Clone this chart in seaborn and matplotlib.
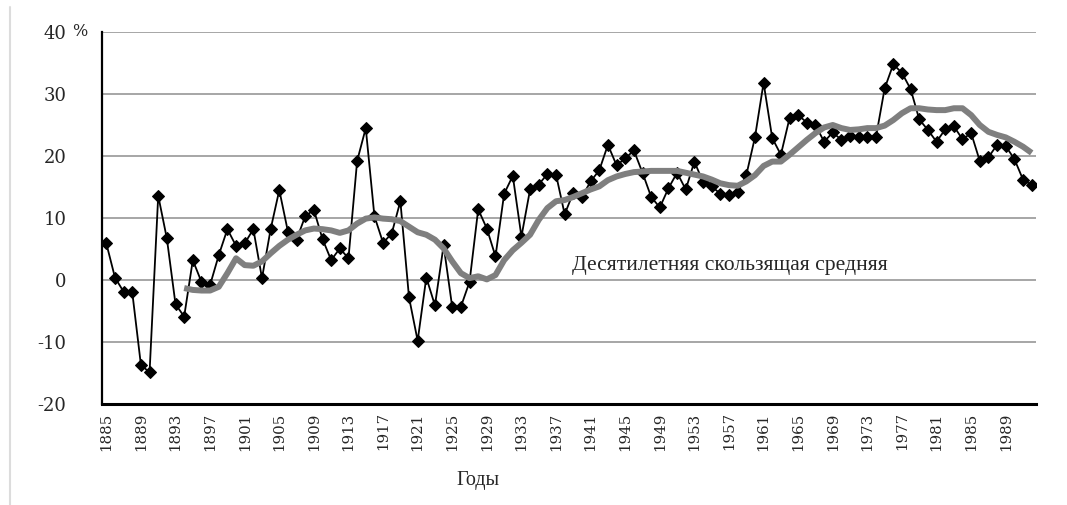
import matplotlib
matplotlib.use("Agg")
import matplotlib.pyplot as plt
import seaborn as sns
import pandas as pd
import numpy as np
from matplotlib.lines import Line2D

# Годы 1885-1992
years = list(range(1885, 1993))

# Годовые значения, %
values = [
    5.9, 0.4, -1.9, -2.0, -13.7, -14.9, 13.6, 6.7, -3.9, -5.9,      # 1885-1894
    3.2, -0.3, -0.8, 4.0, 8.2, 5.5, 5.9, 8.2, 0.3, 8.2,             # 1895-1904
    14.5, 7.8, 6.5, 10.3, 11.3, 6.6, 3.2, 5.1, 3.5, 19.2,           # 1905-1914
    24.5, 10.3, 6.0, 7.5, 12.7, -2.8, -9.8, 0.4, -4.1, 5.6,         # 1915-1924
    -4.4, -4.3, -0.3, 11.4, 8.3, 3.8, 13.9, 16.8, 7.0, 14.6,        # 1925-1934
    15.4, 17.1, 17.0, 10.6, 14.1, 13.4, 15.9, 17.7, 21.8, 18.5,     # 1935-1944
    19.6, 20.9, 17.3, 13.4, 11.7, 14.8, 17.3, 14.6, 19.1, 15.8,     # 1945-1954
    15.1, 13.9, 13.7, 14.2, 16.9, 23.0, 31.8, 22.9, 20.2, 26.1,     # 1955-1964
    26.6, 25.4, 25.0, 22.3, 23.8, 22.6, 23.2, 23.1, 23.1, 23.1,     # 1965-1974
    30.9, 34.8, 33.4, 30.8, 25.9, 24.2, 22.3, 24.3, 24.8, 22.7,     # 1975-1984
    23.7, 19.2, 19.8, 21.8, 21.6, 19.5, 16.2, 15.3,                 # 1985-1992
]

# Десятилетняя скользящая средняя, 1894-1992
ma_years = list(range(1894, 1993))
ma_values = [
    -1.3,                                                           # 1894
    -1.6, -1.7, -1.7, -1.1, 1.1, 3.5, 2.4, 2.3, 3.0, 4.3,           # 1895-1904
    5.5, 6.5, 7.3, 8.0, 8.3, 8.2, 8.0, 7.6, 8.0, 9.1,               # 1905-1914
    9.9, 10.1, 9.9, 9.8, 9.5, 8.6, 7.7, 7.3, 6.5, 5.1,              # 1915-1924
    3.0, 1.1, 0.3, 0.6, 0.1, 0.8, 3.2, 4.8, 6.0, 7.3,               # 1925-1934
    9.7, 11.6, 12.7, 12.9, 13.4, 14.0, 14.6, 15.1, 16.1, 16.7,      # 1935-1944
    17.1, 17.4, 17.5, 17.6, 17.6, 17.6, 17.6, 17.3, 17.0, 16.7,     # 1945-1954
    16.2, 15.6, 15.3, 15.2, 15.9, 16.9, 18.4, 19.1, 19.1, 20.2,     # 1955-1964
    21.4, 22.6, 23.7, 24.6, 25.0, 24.5, 24.2, 24.3, 24.5, 24.5,     # 1965-1974
    24.9, 25.8, 26.9, 27.7, 27.7, 27.5, 27.4, 27.4, 27.7, 27.7,     # 1975-1984
    26.6, 25.0, 23.9, 23.4, 23.0, 22.3, 21.5, 20.5,                 # 1985-1992
]

label_years = list(range(1885, 1990, 4))
y_ticks = [-20, -10, 0, 10, 20, 30, 40]

df = pd.DataFrame({'year': years, 'value': values})
df_ma = pd.DataFrame({'year': ma_years, 'value': ma_values})

sns.set_style("white")
plt.rcParams['font.family'] = ['DejaVu Serif']

fig = plt.figure(figsize=(10.67, 5.05), dpi=100)
ax = fig.add_axes([102 / 1067, 1 - 404 / 505, (1036 - 102) / 1067, (404 - 32) / 505])

sns.lineplot(data=df, x='year', y='value', ax=ax, color='black', linewidth=1.3,
             marker='D', markersize=6.3, markeredgecolor='black', zorder=3)
sns.lineplot(data=df_ma, x='year', y='value', ax=ax, color='#7f7f7f', linewidth=4.3,
             zorder=4, solid_capstyle='butt')

ax.set_xlim(1884.5, 1992.5)
ax.set_ylim(-20, 40)

# grid
ax.set_yticks(y_ticks)
ax.yaxis.grid(True, color='#a6a6a6', linewidth=1.4)
ax.set_axisbelow(True)

# axes lines
for s in ['top', 'right']:
    ax.spines[s].set_visible(False)
ax.spines['left'].set_linewidth(1.6)
ax.spines['left'].set_color('black')
ax.spines['bottom'].set_linewidth(2.2)
ax.spines['bottom'].set_color('black')

ax.set_yticklabels([str(v) for v in y_ticks], fontsize=13)
ax.tick_params(axis='y', direction='out', length=4, width=1.5, color='black', pad=21.5)

ax.set_xticks(label_years)
ax.set_xticklabels([str(y) for y in label_years], rotation=90, fontsize=10.8)
ax.set_xticks(np.arange(1884.5, 1993, 1), minor=True)
ax.tick_params(axis='x', which='major', length=0, pad=6)
ax.tick_params(axis='x', which='minor', direction='out', length=3.5, width=1.3, color='black')

ax.set_xlabel('')
ax.set_ylabel('')

# "%" after top label
ax.annotate('%', xy=(0, 40), xycoords=('axes fraction', 'data'), xytext=(-21.5, 0),
            textcoords='offset points', ha='left', va='center', fontsize=11.5)

ax.text(1938.9, 2.4, 'Десятилетняя скользящая средняя', fontsize=15.6,
        family=['Liberation Serif', 'DejaVu Serif'], ha='left', va='center')

fig.text(478 / 1067, 1 - 480 / 505, 'Годы', fontsize=14.5,
         family=['Liberation Serif', 'DejaVu Serif'], ha='center', va='center')

fig.add_artist(Line2D([10 / 1067, 10 / 1067], [0, 1 - 7 / 505], transform=fig.transFigure,
                      color='#dcdcdc', linewidth=1.5))

fig.savefig('out.png', dpi=100)
plt.close()
